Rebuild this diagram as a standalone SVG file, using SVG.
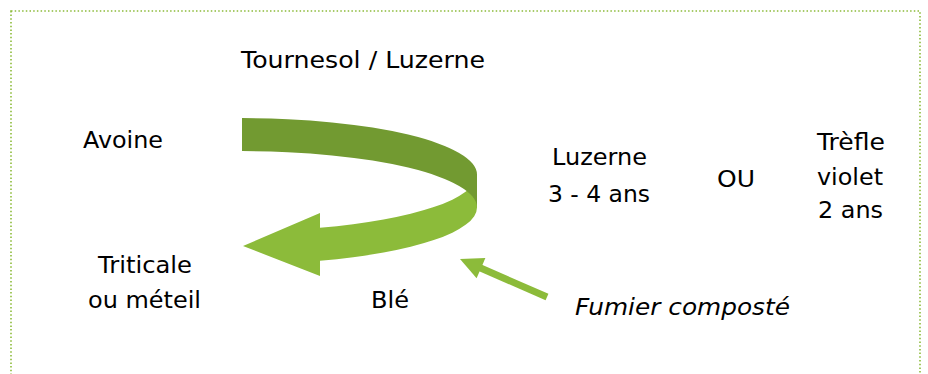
<svg xmlns="http://www.w3.org/2000/svg" width="928" height="374" viewBox="0 0 928 374">
<style>
.t{font-family:"DejaVu Sans","Liberation Sans",sans-serif;font-size:23px;fill:#000;text-anchor:middle}
.i{font-style:italic}
.dark{fill:#729A31}
.light{fill:#8CBB3A}
</style>
<rect x="11" y="11" width="909" height="420" fill="none" stroke="#8CBB3A" stroke-width="1.6" stroke-dasharray="1.5 2.2"/>
<g id="connectors">
<g id="cycle-arrow">
<path class="light" d="M 477 174.5 A 235 56.4 0 0 1 320 227.7 L 320 213 L 243 246 L 320 276 L 320 260.7 A 235 56.4 0 0 0 477 207.5 Z"/>
<path class="dark" d="M 242 118.1 A 235 56.4 0 0 1 477 174.5 L 477 207.5 A 235 56.4 0 0 0 242 151.1 Z"/>
</g>
<g id="fumier-arrow">
<line x1="547" y1="297" x2="480" y2="267.8" stroke="#8CBB3A" stroke-width="7"/>
<polygon class="light" points="460,259 476.6,278.3 485.4,258.1"/>
</g>
</g>
<g id="tournesol"><text class="t" x="363" y="68" textLength="244" lengthAdjust="spacingAndGlyphs">Tournesol / Luzerne</text></g>
<g id="avoine"><text class="t" x="123" y="148" textLength="80" lengthAdjust="spacingAndGlyphs">Avoine</text></g>
<g id="triticale">
<text class="t" x="145" y="273" textLength="94" lengthAdjust="spacingAndGlyphs">Triticale</text>
<text class="t" x="144.5" y="308" textLength="113" lengthAdjust="spacingAndGlyphs">ou méteil</text>
</g>
<g id="luzerne">
<text class="t" x="599.5" y="165" textLength="95" lengthAdjust="spacingAndGlyphs">Luzerne</text>
<text class="t" x="599" y="201.5" textLength="102" lengthAdjust="spacingAndGlyphs">3 - 4 ans</text>
</g>
<g id="ou"><text class="t" x="736" y="186.5" textLength="38" lengthAdjust="spacingAndGlyphs">OU</text></g>
<g id="trefle">
<text class="t" x="851" y="150" textLength="68" lengthAdjust="spacingAndGlyphs">Trèfle</text>
<text class="t" x="850" y="185" textLength="66" lengthAdjust="spacingAndGlyphs">violet</text>
<text class="t" x="850.5" y="218" textLength="65" lengthAdjust="spacingAndGlyphs">2 ans</text>
</g>
<g id="ble"><text class="t" x="390" y="307.5" textLength="38" lengthAdjust="spacingAndGlyphs">Blé</text></g>
<g id="fumier"><text class="t i" x="682.5" y="315" textLength="215" lengthAdjust="spacingAndGlyphs">Fumier composté</text></g>
</svg>
